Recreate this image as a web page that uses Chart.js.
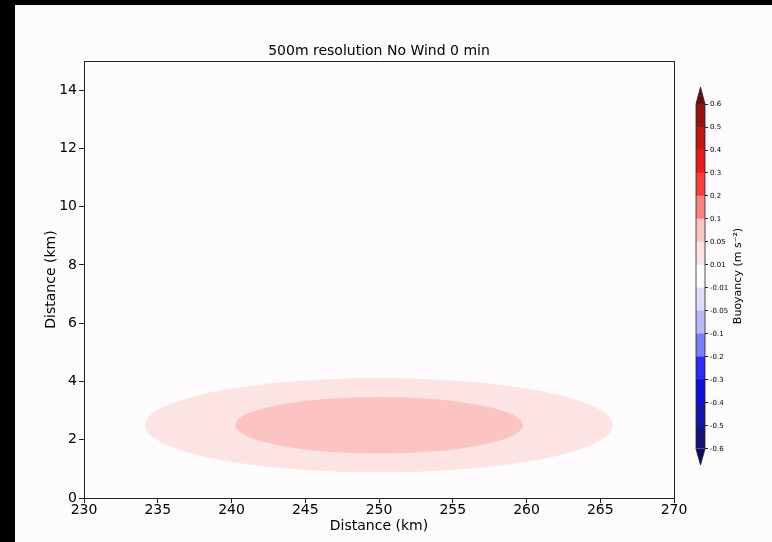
<!DOCTYPE html>
<html>
<head>
<meta charset="utf-8">
<script src="https://cdn.jsdelivr.net/npm/chart.js@4.4.0/dist/chart.umd.min.js"></script>
<style>
  html, body { margin: 0; padding: 0; background: #000; }
  #page { position: absolute; left: 15px; top: 5px; width: 757px; height: 537px; background: #fdfbfb; }
  #main { position: absolute; left: 0; top: 0; }
  #cbar { position: absolute; left: 675px; top: 75px; }
</style>
</head>
<body>
<div id="page">
  <canvas id="main" width="757" height="537"></canvas>
  <canvas id="cbar" width="82" height="400"></canvas>
</div>
<script>
const chartTitle = '500m resolution No Wind 0 min';
const xTicks = [230, 235, 240, 245, 250, 255, 260, 265, 270];
const yTicks = [0, 2, 4, 6, 8, 10, 12, 14];

// filled buoyancy contours (lower level of each band, centre and half widths in km)
const contourLevels = [0.01, 0.05];
const contourCenterX = [250, 250];
const contourCenterY = [2.5, 2.5];
const contourRadiusX = [15.85, 9.75];
const contourRadiusY = [1.62, 0.97];

// colorbar levels and band colours, bottom to top
const cbarLevels = [-0.6, -0.5, -0.4, -0.3, -0.2, -0.1, -0.05, -0.01, 0.01, 0.05, 0.1, 0.2, 0.3, 0.4, 0.5, 0.6];
const cbarColors = ['#14147c', '#1414a8', '#1010d4', '#2c2cf5', '#7c7cf6', '#b6b6f8', '#dedefb', '#ffffff',
                    '#fde4e4', '#fcc3c3', '#f98282', '#f53e3e', '#e81c1c', '#c01818', '#901414'];
const cbarUnder = '#0c0c5a';
const cbarOver = '#6c0e10';

Chart.defaults.font.family = "'DejaVu Sans', sans-serif";
Chart.defaults.color = '#000';

const axisColor = '#222';

// draw the contour bands through the chart's scales
const contourPlugin = {
    id: 'contours',
    beforeDatasetsDraw(chart) {
        const { ctx, chartArea: a, scales: { x, y } } = chart;
        ctx.save();
        ctx.beginPath();
        ctx.rect(a.left, a.top, a.width, a.height);
        ctx.clip();
        contourLevels.forEach((lvl, i) => {
            const cx = x.getPixelForValue(contourCenterX[i]);
            const cy = y.getPixelForValue(contourCenterY[i]);
            const rx = Math.abs(x.getPixelForValue(contourCenterX[i] + contourRadiusX[i]) - cx);
            const ry = Math.abs(y.getPixelForValue(contourCenterY[i] + contourRadiusY[i]) - cy);
            ctx.fillStyle = cbarColors[cbarLevels.indexOf(lvl)];
            ctx.beginPath();
            ctx.ellipse(cx, cy, rx, ry, 0, 0, Math.PI * 2);
            ctx.fill();
        });
        ctx.restore();
    }
};

new Chart(document.getElementById('main'), {
    type: 'scatter',
    data: { datasets: [] },
    options: {
        responsive: false,
        animation: false,
        devicePixelRatio: 1,
        layout: { padding: 0 },
        plugins: { legend: { display: false }, tooltip: { enabled: false } },
        scales: {
            x: {
                type: 'linear', position: 'bottom', min: 230, max: 270,
                afterBuildTicks: s => { s.ticks = xTicks.map(v => ({ value: v })); },
                afterFit: s => { s.height = 44; },
                grid: { drawOnChartArea: false, tickLength: 5, tickColor: axisColor },
                border: { color: axisColor, width: 1 },
                ticks: { font: { size: 14 }, padding: -1, maxRotation: 0 },
                title: { display: true, text: 'Distance (km)', font: { size: 14 }, padding: { top: 0, bottom: 7 } }
            },
            y: {
                type: 'linear', position: 'left', min: 0, max: 15,
                afterBuildTicks: s => { s.ticks = yTicks.map(v => ({ value: v })); },
                afterFit: s => { s.width = 69; },
                grid: { drawOnChartArea: false, tickLength: 5, tickColor: axisColor },
                border: { color: axisColor, width: 1 },
                ticks: { font: { size: 14 }, padding: 2 },
                title: { display: true, text: 'Distance (km)', font: { size: 14 }, padding: { top: 27.6, bottom: 0 } }
            },
            xTop: {
                type: 'linear', position: 'top', min: 230, max: 270,
                afterFit: s => { s.height = 56; },
                ticks: { display: false },
                grid: { drawOnChartArea: false, drawTicks: false },
                border: { color: axisColor, width: 1 },
                title: { display: true, text: chartTitle, font: { size: 14 }, padding: { top: 37.6, bottom: 0 } }
            },
            yRight: {
                type: 'linear', position: 'right', min: 0, max: 15,
                afterFit: s => { s.width = 98; },
                ticks: { display: false },
                grid: { drawOnChartArea: false, drawTicks: false },
                border: { color: axisColor, width: 1 }
            }
        }
    },
    plugins: [contourPlugin]
});

// extend triangles, outline and label for the colorbar
const cbarExtras = {
    id: 'cbarExtras',
    afterDatasetsDraw(chart) {
        const { ctx, chartArea: a, scales: { y } } = chart;
        const top = y.getPixelForValue(cbarLevels.length - 1);
        const bot = y.getPixelForValue(0);
        const mid = (a.left + a.right) / 2;
        ctx.save();
        ctx.fillStyle = cbarOver;
        ctx.beginPath();
        ctx.moveTo(a.left, top); ctx.lineTo(mid, a.top); ctx.lineTo(a.right, top);
        ctx.closePath(); ctx.fill();
        ctx.fillStyle = cbarUnder;
        ctx.beginPath();
        ctx.moveTo(a.left, bot); ctx.lineTo(mid, a.bottom); ctx.lineTo(a.right, bot);
        ctx.closePath(); ctx.fill();

        ctx.strokeStyle = '#222';
        ctx.lineWidth = 0.8;
        ctx.beginPath();
        ctx.moveTo(a.left, top); ctx.lineTo(mid, a.top); ctx.lineTo(a.right, top);
        ctx.lineTo(a.right, bot); ctx.lineTo(mid, a.bottom); ctx.lineTo(a.left, bot);
        ctx.closePath(); ctx.stroke();

        ctx.translate(48, (a.top + a.bottom) / 2);
        ctx.rotate(-Math.PI / 2);
        ctx.font = "11px 'DejaVu Sans'";
        ctx.fillStyle = '#000';
        ctx.textAlign = 'center';
        ctx.textBaseline = 'middle';
        ctx.fillText('Buoyancy (m s\u207B\u00B2)', 0, 0);
        ctx.restore();
    }
};

new Chart(document.getElementById('cbar'), {
    type: 'bar',
    data: {
        labels: [''],
        datasets: cbarColors.map((c, i) => ({
            data: [[i, i + 1]],
            backgroundColor: c,
            borderWidth: 0,
            grouped: false,
            barPercentage: 1,
            categoryPercentage: 1
        }))
    },
    options: {
        responsive: false,
        animation: false,
        devicePixelRatio: 1,
        layout: { padding: { left: 6, top: 7, bottom: 15, right: 0 } },
        plugins: { legend: { display: false }, tooltip: { enabled: false } },
        scales: {
            x: { display: false },
            y: {
                position: 'right', min: -0.70, max: 15.74,
                afterBuildTicks: s => { s.ticks = cbarLevels.map((v, i) => ({ value: i })); },
                afterFit: s => { s.width = 67; },
                grid: { drawOnChartArea: false, tickLength: 3, tickColor: '#222' },
                border: { display: false },
                ticks: { font: { size: 7 }, padding: 2, callback: v => String(cbarLevels[v]) }
            }
        }
    },
    plugins: [cbarExtras]
});
</script>
</body>
</html>
